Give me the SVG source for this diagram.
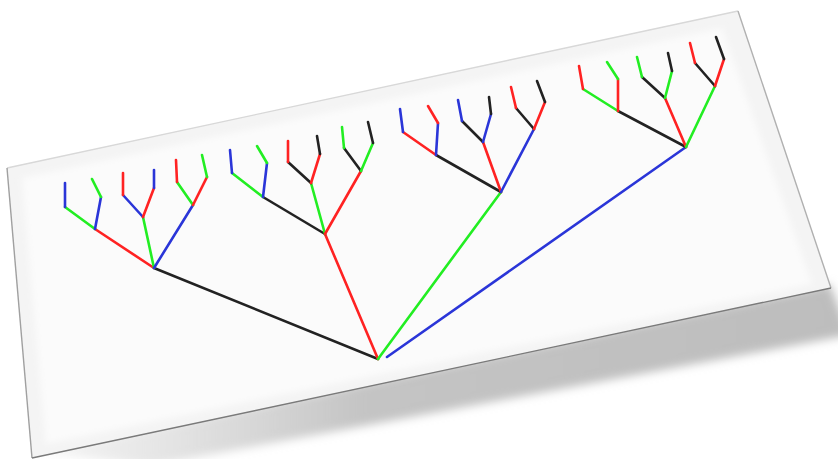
<svg xmlns="http://www.w3.org/2000/svg" width="838" height="459" viewBox="0 0 838 459">
<defs>
<filter id="sh" x="-10%" y="-30%" width="120%" height="160%"><feGaussianBlur stdDeviation="5"/></filter>
<filter id="soft" x="-5%" y="-5%" width="110%" height="110%"><feGaussianBlur stdDeviation="3"/></filter>
<filter id="e" x="-5%" y="-5%" width="110%" height="110%"><feGaussianBlur stdDeviation="0.6"/></filter>
<linearGradient id="shg" x1="0" y1="0" x2="1" y2="0"><stop offset="0" stop-color="#cfcfcf" stop-opacity="0.2"/><stop offset="0.4" stop-color="#c4c4c4"/><stop offset="1" stop-color="#bdbdbd"/></linearGradient>
</defs>
<style>
line{stroke-width:2.6;stroke-linecap:round}
.k{stroke:#222}.r{stroke:#ff2222}.g{stroke:#22ee22}.b{stroke:#2a35d8}
.edge{fill:none;stroke-width:1.4;filter:url(#e)}
</style>
<rect width="838" height="459" fill="#fff"/>
<g id="card">
<polygon points="40,452 830,284 850,335 150,466" fill="url(#shg)" filter="url(#sh)"/>
<polygon points="7,168 738,11 831,288 32,458" fill="#f4f4f4"/>
<polygon points="22,178 722,28 812,284 46,444" fill="#fbfbfb" filter="url(#soft)"/>
<polyline class="edge" points="7,168 738,11" stroke="#d8d8d8"/>
<polyline class="edge" points="7,168 32,458" stroke="#a0a0a0"/>
<polyline class="edge" points="738,11 831,288" stroke="#b0b0b0"/>
<polyline class="edge" points="32,458 831,288" stroke="#7a7a7a"/>
</g>
<g id="connectors">
<line class="k" x1="378" y1="359" x2="154" y2="268"/>
<line class="r" x1="378" y1="359" x2="325" y2="234"/>
<line class="g" x1="378" y1="359" x2="501" y2="192"/>
<line class="b" x1="387" y1="357" x2="686" y2="147"/>

<line class="r" x1="154" y1="268" x2="95" y2="229"/>
<line class="g" x1="154" y1="268" x2="143" y2="217"/>
<line class="b" x1="154" y1="268" x2="193" y2="205"/>
<line class="g" x1="95" y1="229" x2="65" y2="207"/>
<line class="b" x1="95" y1="229" x2="101" y2="197"/>
<line class="b" x1="65" y1="207" x2="65" y2="183"/>
<line class="g" x1="101" y1="197" x2="92" y2="179"/>
<line class="b" x1="143" y1="217" x2="123" y2="195"/>
<line class="r" x1="143" y1="217" x2="154" y2="188"/>
<line class="r" x1="123" y1="195" x2="123" y2="173"/>
<line class="b" x1="154" y1="188" x2="154" y2="170"/>
<line class="g" x1="193" y1="205" x2="177" y2="182"/>
<line class="r" x1="193" y1="205" x2="207" y2="177"/>
<line class="r" x1="177" y1="182" x2="176" y2="160"/>
<line class="g" x1="207" y1="177" x2="202" y2="155"/>

<line class="k" x1="325" y1="234" x2="263" y2="197"/>
<line class="g" x1="325" y1="234" x2="311" y2="183"/>
<line class="r" x1="325" y1="234" x2="361" y2="171"/>
<line class="g" x1="263" y1="197" x2="232" y2="173"/>
<line class="b" x1="263" y1="197" x2="267" y2="163"/>
<line class="b" x1="232" y1="173" x2="230" y2="150"/>
<line class="g" x1="267" y1="163" x2="257" y2="146"/>
<line class="k" x1="311" y1="183" x2="288" y2="162"/>
<line class="r" x1="311" y1="183" x2="320" y2="154"/>
<line class="r" x1="288" y1="162" x2="288" y2="141"/>
<line class="k" x1="320" y1="154" x2="317" y2="136"/>
<line class="k" x1="361" y1="171" x2="344" y2="148"/>
<line class="g" x1="361" y1="171" x2="373" y2="143"/>
<line class="g" x1="344" y1="148" x2="342" y2="127"/>
<line class="k" x1="373" y1="143" x2="368" y2="122"/>

<line class="k" x1="501" y1="192" x2="436" y2="155"/>
<line class="r" x1="501" y1="192" x2="483" y2="142"/>
<line class="b" x1="501" y1="192" x2="534" y2="129"/>
<line class="r" x1="436" y1="155" x2="403" y2="132"/>
<line class="b" x1="436" y1="155" x2="438" y2="123"/>
<line class="b" x1="403" y1="132" x2="400" y2="109"/>
<line class="r" x1="438" y1="123" x2="428" y2="106"/>
<line class="k" x1="483" y1="142" x2="462" y2="121"/>
<line class="b" x1="483" y1="142" x2="491" y2="114"/>
<line class="b" x1="462" y1="121" x2="458" y2="100"/>
<line class="k" x1="491" y1="114" x2="489" y2="97"/>
<line class="k" x1="534" y1="129" x2="516" y2="108"/>
<line class="r" x1="534" y1="129" x2="545" y2="102"/>
<line class="r" x1="516" y1="108" x2="511" y2="87"/>
<line class="k" x1="545" y1="102" x2="537" y2="81"/>

<line class="k" x1="686" y1="147" x2="618" y2="111"/>
<line class="r" x1="686" y1="147" x2="665" y2="98"/>
<line class="g" x1="686" y1="147" x2="715" y2="86"/>
<line class="g" x1="618" y1="111" x2="583" y2="89"/>
<line class="r" x1="618" y1="111" x2="618" y2="79"/>
<line class="r" x1="583" y1="89" x2="579" y2="66"/>
<line class="g" x1="618" y1="79" x2="607" y2="62"/>
<line class="k" x1="665" y1="98" x2="642" y2="77"/>
<line class="g" x1="665" y1="98" x2="672" y2="71"/>
<line class="g" x1="642" y1="77" x2="637" y2="57"/>
<line class="k" x1="672" y1="71" x2="668" y2="53"/>
<line class="k" x1="715" y1="86" x2="695" y2="63"/>
<line class="r" x1="715" y1="86" x2="724" y2="59"/>
<line class="r" x1="695" y1="63" x2="690" y2="43"/>
<line class="k" x1="724" y1="59" x2="716" y2="37"/>
</g>
</svg>
